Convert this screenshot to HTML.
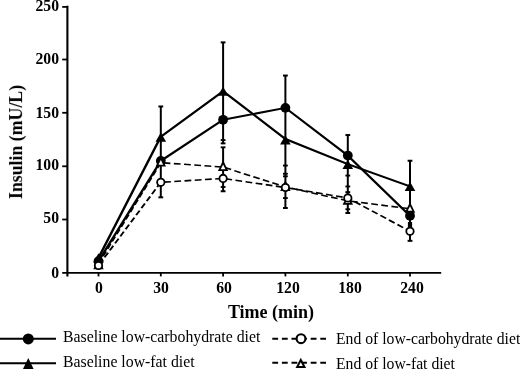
<!DOCTYPE html>
<html><head><meta charset="utf-8"><title>Insulin chart</title>
<style>
html,body{margin:0;padding:0;background:#fff;}
body{width:520px;height:369px;position:relative;overflow:hidden;font-family:"Liberation Serif",serif;color:#000;}
.t{position:absolute;white-space:nowrap;line-height:1;will-change:transform;}
.yl{font-weight:bold;font-size:15.7px;text-align:right;width:50px;left:9.05px;}
.xl{font-weight:bold;font-size:15.7px;text-align:center;width:40px;}
.lg{font-size:15.7px;}
</style></head><body>
<svg width="520" height="369" viewBox="0 0 520 369" style="position:absolute;left:0;top:0">
<line x1="67.4" y1="5.8" x2="67.4" y2="276.4" stroke="#000" stroke-width="2.1"/>
<line x1="62.2" y1="272.8" x2="441.2" y2="272.8" stroke="#000" stroke-width="1.8"/>
<line x1="62.2" y1="219.5" x2="67.4" y2="219.5" stroke="#000" stroke-width="1.8"/>
<line x1="62.2" y1="166.3" x2="67.4" y2="166.3" stroke="#000" stroke-width="1.8"/>
<line x1="62.2" y1="112.8" x2="67.4" y2="112.8" stroke="#000" stroke-width="1.8"/>
<line x1="62.2" y1="59.5" x2="67.4" y2="59.5" stroke="#000" stroke-width="1.8"/>
<line x1="62.2" y1="6.9" x2="67.4" y2="6.9" stroke="#000" stroke-width="1.8"/>
<line x1="98.5" y1="272.8" x2="98.5" y2="276.4" stroke="#000" stroke-width="1.8"/>
<line x1="160.8" y1="272.8" x2="160.8" y2="276.4" stroke="#000" stroke-width="1.8"/>
<line x1="223.1" y1="272.8" x2="223.1" y2="276.4" stroke="#000" stroke-width="1.8"/>
<line x1="285.4" y1="272.8" x2="285.4" y2="276.4" stroke="#000" stroke-width="1.8"/>
<line x1="347.8" y1="272.8" x2="347.8" y2="276.4" stroke="#000" stroke-width="1.8"/>
<line x1="410" y1="272.8" x2="410" y2="276.4" stroke="#000" stroke-width="1.8"/>
<line x1="160.8" y1="197.33" x2="160.8" y2="106.47" stroke="#000" stroke-width="2.0"/><line x1="158.4" y1="197.33" x2="163.20000000000002" y2="197.33" stroke="#000" stroke-width="2"/><line x1="158.4" y1="106.47" x2="163.20000000000002" y2="106.47" stroke="#000" stroke-width="2"/>
<line x1="223.1" y1="144.12" x2="223.1" y2="42.38" stroke="#000" stroke-width="2.0"/><line x1="220.7" y1="42.38" x2="225.5" y2="42.38" stroke="#000" stroke-width="2"/>
<line x1="223.1" y1="191.25" x2="223.1" y2="147.32" stroke="#000" stroke-width="2.0"/><line x1="220.7" y1="191.25" x2="225.5" y2="191.25" stroke="#000" stroke-width="2"/>
<line x1="220.7" y1="186.99" x2="225.5" y2="186.99" stroke="#000" stroke-width="1.9"/>
<line x1="220.7" y1="140.07" x2="225.5" y2="140.07" stroke="#000" stroke-width="1.9"/>
<line x1="220.7" y1="143.37" x2="225.5" y2="143.37" stroke="#000" stroke-width="1.9"/>
<line x1="220.7" y1="147.32" x2="225.5" y2="147.32" stroke="#000" stroke-width="1.9"/>
<line x1="285.4" y1="208.0" x2="285.4" y2="75.55" stroke="#000" stroke-width="2.0"/><line x1="283.0" y1="208.0" x2="287.79999999999995" y2="208.0" stroke="#000" stroke-width="2"/><line x1="283.0" y1="75.55" x2="287.79999999999995" y2="75.55" stroke="#000" stroke-width="2"/>
<line x1="283.0" y1="165.55" x2="287.79999999999995" y2="165.55" stroke="#000" stroke-width="1.9"/>
<line x1="283.0" y1="173.76" x2="287.79999999999995" y2="173.76" stroke="#000" stroke-width="1.9"/>
<line x1="283.0" y1="176.32" x2="287.79999999999995" y2="176.32" stroke="#000" stroke-width="1.9"/>
<line x1="283.0" y1="198.08" x2="287.79999999999995" y2="198.08" stroke="#000" stroke-width="1.9"/>
<line x1="347.8" y1="213.01" x2="347.8" y2="135.05" stroke="#000" stroke-width="2.0"/><line x1="345.40000000000003" y1="213.01" x2="350.2" y2="213.01" stroke="#000" stroke-width="2"/><line x1="345.40000000000003" y1="135.05" x2="350.2" y2="135.05" stroke="#000" stroke-width="2"/>
<line x1="345.40000000000003" y1="175.58" x2="350.2" y2="175.58" stroke="#000" stroke-width="1.9"/>
<line x1="345.40000000000003" y1="186.45" x2="350.2" y2="186.45" stroke="#000" stroke-width="1.9"/>
<line x1="345.40000000000003" y1="192.11" x2="350.2" y2="192.11" stroke="#000" stroke-width="1.9"/>
<line x1="345.40000000000003" y1="209.28" x2="350.2" y2="209.28" stroke="#000" stroke-width="1.9"/>
<line x1="410" y1="240.84" x2="410" y2="160.75" stroke="#000" stroke-width="2.0"/><line x1="407.6" y1="240.84" x2="412.4" y2="240.84" stroke="#000" stroke-width="2"/><line x1="407.6" y1="160.75" x2="412.4" y2="160.75" stroke="#000" stroke-width="2"/>
<rect x="407.9" y="222" width="4.2" height="5.5" fill="#000"/>
<g transform="scale(1,0.8)"><polyline points="98.5,331.85 160.8,227.88 223.1,223.07 285.4,234.40 347.8,247.46 410,289.05" fill="none" stroke="#000" stroke-width="2.0" stroke-dasharray="6.8 3.45" stroke-dashoffset="-1.5" stroke-linejoin="round"/></g>
<g transform="scale(1,0.8)"><polyline points="98.5,329.45 160.8,203.34 223.1,208.81 285.4,233.74 347.8,251.06 410,260.93" fill="none" stroke="#000" stroke-width="2.0" stroke-dasharray="6.8 3.45" stroke-dashoffset="0" stroke-linejoin="round"/></g>
<g transform="scale(1,0.8)"><polyline points="98.5,326.38 160.8,201.08 223.1,149.75 285.4,134.82 347.8,194.41 410,269.72" fill="none" stroke="#000" stroke-width="2.5" stroke-linejoin="round"/></g>
<g transform="scale(1,0.8)"><polyline points="98.5,322.37 160.8,170.81 223.1,114.04 285.4,173.75 347.8,205.07 410,233.06" fill="none" stroke="#000" stroke-width="2.5" stroke-linejoin="round"/></g>
<polygon points="98.50,253.30 93.20,262.50 103.80,262.50" fill="#000"/>
<polygon points="160.80,132.45 155.50,141.65 166.10,141.65" fill="#000"/>
<polygon points="223.10,86.63 217.80,95.83 228.40,95.83" fill="#000"/>
<polygon points="285.40,135.30 280.10,144.50 290.70,144.50" fill="#000"/>
<polygon points="347.80,159.76 342.50,168.96 353.10,168.96" fill="#000"/>
<polygon points="410.00,181.85 404.70,191.05 415.30,191.05" fill="#000"/>
<circle cx="98.5" cy="261.1" r="4.9" fill="#000"/>
<circle cx="160.8" cy="160.86" r="4.9" fill="#000"/>
<circle cx="223.1" cy="119.8" r="4.9" fill="#000"/>
<circle cx="285.4" cy="107.86" r="4.9" fill="#000"/>
<circle cx="347.8" cy="155.53" r="4.9" fill="#000"/>
<circle cx="410" cy="215.78" r="4.9" fill="#000"/>
<polygon points="98.50,258.56 93.30,269.16 103.70,269.16" fill="#000"/><polygon points="98.50,262.65 96.19,267.36 100.81,267.36" fill="#fff"/>
<polygon points="160.80,155.97 155.60,166.57 166.00,166.57" fill="#000"/><polygon points="160.80,160.06 158.49,164.77 163.11,164.77" fill="#fff"/>
<polygon points="223.10,160.35 217.90,170.95 228.30,170.95" fill="#000"/><polygon points="223.10,164.44 220.79,169.15 225.41,169.15" fill="#fff"/>
<polygon points="285.40,180.29 280.20,190.89 290.60,190.89" fill="#000"/><polygon points="285.40,184.38 283.09,189.09 287.71,189.09" fill="#fff"/>
<polygon points="347.80,194.15 342.60,204.75 353.00,204.75" fill="#000"/><polygon points="347.80,198.24 345.49,202.95 350.11,202.95" fill="#fff"/>
<polygon points="410.00,202.04 404.80,212.64 415.20,212.64" fill="#000"/><polygon points="410.00,206.13 407.69,210.84 412.31,210.84" fill="#fff"/>
<circle cx="98.5" cy="265.48" r="3.7" fill="#fff" stroke="#000" stroke-width="1.8"/>
<circle cx="160.8" cy="182.3" r="3.7" fill="#fff" stroke="#000" stroke-width="1.8"/>
<circle cx="223.1" cy="178.46" r="3.7" fill="#fff" stroke="#000" stroke-width="1.8"/>
<circle cx="285.4" cy="187.52" r="3.7" fill="#fff" stroke="#000" stroke-width="1.8"/>
<circle cx="347.8" cy="197.97" r="3.7" fill="#fff" stroke="#000" stroke-width="1.8"/>
<circle cx="410" cy="231.24" r="3.7" fill="#fff" stroke="#000" stroke-width="1.8"/>
<line x1="0" y1="338.8" x2="56" y2="338.8" stroke="#000" stroke-width="2.1"/>
<circle cx="28.3" cy="338.9" r="5.5" fill="#000"/>
<line x1="0" y1="363.3" x2="56" y2="363.3" stroke="#000" stroke-width="2.1"/>
<polygon points="28.30,358.00 22.50,370.00 34.10,370.00" fill="#000"/>
<line x1="272.3" y1="338.7" x2="326" y2="338.7" stroke="#000" stroke-width="2" stroke-dasharray="5.8 3.8"/>
<circle cx="301" cy="338.7" r="4.4" fill="#fff" stroke="#000" stroke-width="2.1"/>
<line x1="272.3" y1="362.8" x2="326" y2="362.8" stroke="#000" stroke-width="2" stroke-dasharray="5.8 3.8"/>
<polygon points="300.80,357.80 295.50,368.00 306.10,368.00" fill="#000"/><polygon points="300.80,362.14 298.79,366.00 302.81,366.00" fill="#fff"/>
</svg>
<div class="t yl" style="top:264.8px">0</div>
<div class="t yl" style="top:209.7px">50</div>
<div class="t yl" style="top:157.1px">100</div>
<div class="t yl" style="top:104.7px">150</div>
<div class="t yl" style="top:51.2px">200</div>
<div class="t yl" style="top:-1.7px">250</div>
<div class="t xl" style="left:78.5px;top:280.3px">0</div>
<div class="t xl" style="left:140.9px;top:280.3px">30</div>
<div class="t xl" style="left:203.5px;top:280.3px">60</div>
<div class="t xl" style="left:267.6px;top:280.3px">120</div>
<div class="t xl" style="left:330.1px;top:280.3px">180</div>
<div class="t xl" style="left:392.3px;top:280.3px">240</div>
<div class="t" style="font-weight:bold;font-size:18px;left:170.9px;width:200px;text-align:center;top:302.6px">Time (min)</div>
<div class="t" style="font-weight:bold;font-size:17.8px;left:17.0px;top:141.6px;transform:translate(-50%,-50%) rotate(-90deg);" id="ylab">Insulin (mU/L)</div>
<div class="t lg" style="left:62.5px;top:329.2px;font-size:15.8px">Baseline low-carbohydrate diet</div>
<div class="t lg" style="left:62.5px;top:354.2px;font-size:15.8px">Baseline low-fat diet</div>
<div class="t lg" style="left:336.1px;top:331px">End of low-carbohydrate diet</div>
<div class="t lg" style="left:336.1px;top:355.8px">End of low-fat diet</div>
</body></html>
